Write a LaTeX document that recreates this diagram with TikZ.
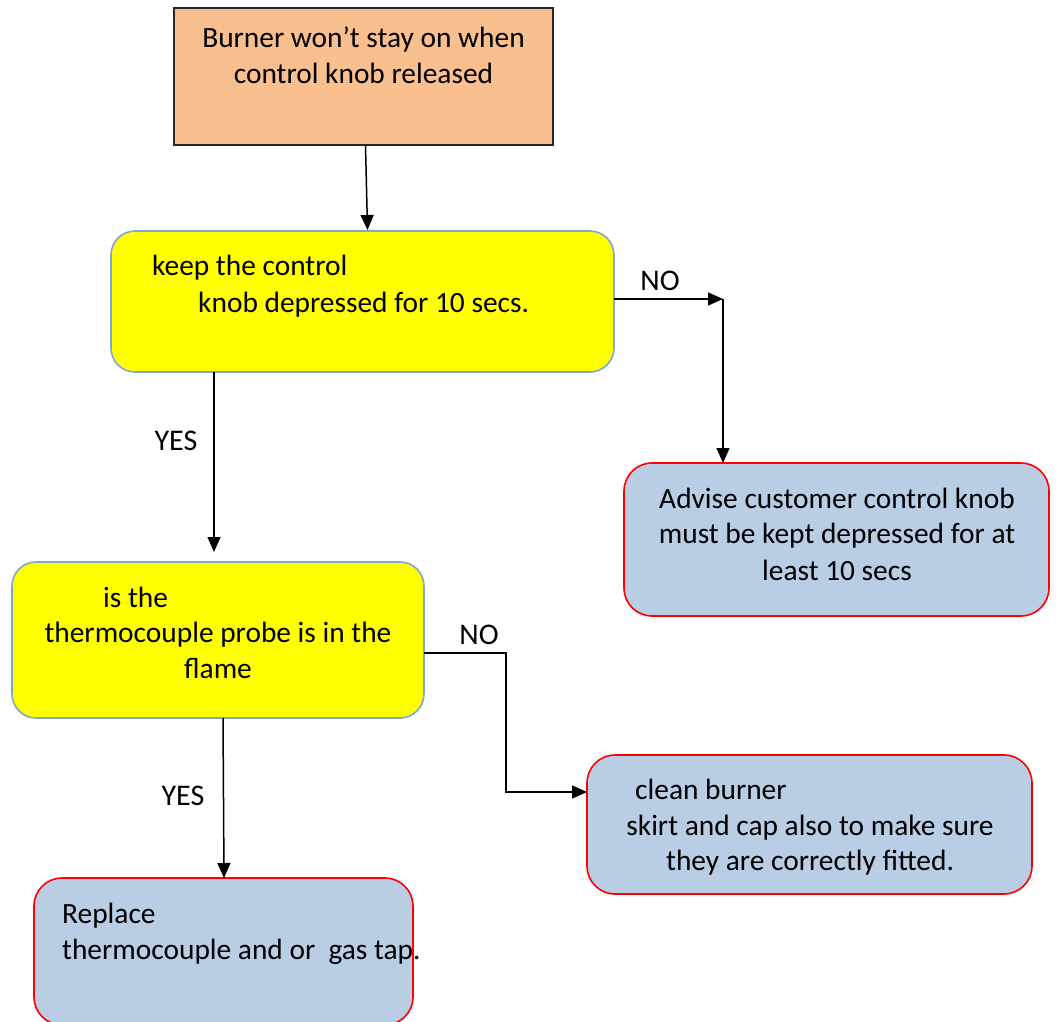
\documentclass[tikz,border=0pt]{standalone}
\usepackage{fontspec}
\setmainfont{Carlito}
\usetikzlibrary{arrows.meta,calc}
\definecolor{peach}{HTML}{F9BF8F}
\definecolor{ylw}{HTML}{FFFF00}
\definecolor{lblue}{HTML}{B9CDE4}
\definecolor{bblue}{HTML}{7EA6D8}
\definecolor{rred}{HTML}{FF0000}
\begin{document}
\begin{tikzpicture}[x=1pt,y=-1pt,
  boxbase/.style={inner sep=0pt, outer sep=0pt, line width=1.6pt},
  startbox/.style={boxbase, rectangle, draw=black!85, fill=peach},
  decbox/.style={boxbase, rectangle, rounded corners=24pt, draw=bblue, fill=ylw},
  actbox/.style={boxbase, rectangle, rounded corners=28pt, draw=rred, fill=lblue},
  txt/.style={inner sep=0pt, font=\fontsize{29.4}{35}\selectfont},
  lbl/.style={inner sep=0pt, font=\fontsize{30}{35}\selectfont},
  conn/.style={line width=1.5pt, -{Triangle[length=15pt,width=13pt]}}
]
\useasboundingbox (0,0) rectangle (1058,1021);

% boxes
\node[startbox, minimum width=379pt, minimum height=137pt] (start) at (363.5,76.5) {};
\node[decbox, minimum width=503pt, minimum height=141pt] (dec1) at (362.5,301.5) {};
\node[decbox, minimum width=412pt, minimum height=156pt] (dec2) at (218,640) {};
\node[actbox, minimum width=425pt, minimum height=153pt] (act1) at (836.5,539.5) {};
\node[actbox, minimum width=445pt, minimum height=139pt] (act2) at (809.5,824.5) {};
\node[actbox, minimum width=379pt, minimum height=147pt] (act3) at (223.5,951.5) {};

% texts
\node[txt, anchor=base] (t1a) at (363.5,47) {Burner won’t stay on when};
\node[txt, anchor=base] (t1b) at (363.5,83) {control knob released};
\node[txt, anchor=base west] (t2a) at (152,275) {keep the control};
\node[txt, anchor=base west] (t2b) at (198,312) {knob depressed for 10 secs.};
\node[txt, anchor=base west] (t3a) at (103,607) {is the};
\node[txt, anchor=base] (t3b) at (218,642) {thermocouple probe is in the};
\node[txt, anchor=base] (t3c) at (218,678) {flame};
\node[txt, anchor=base] (t4a) at (837,508) {Advise customer control knob};
\node[txt, anchor=base] (t4b) at (837,543) {must be kept depressed for at};
\node[txt, anchor=base] (t4c) at (837,580) {least 10 secs};
\node[txt, anchor=base west] (t5a) at (635,799) {clean burner};
\node[txt, anchor=base] (t5b) at (810,835) {skirt and cap also to make sure};
\node[txt, anchor=base] (t5c) at (810,870) {they are correctly fitted.};
\node[txt, anchor=base west] (t6a) at (62,923) {Replace};
\node[txt, anchor=base west] (t6b) at (62,959) {thermocouple and or~~gas tap.};

% labels
\node[lbl, anchor=base] (no1) at (660,290) {NO};
\node[lbl, anchor=base] (yes1) at (176,450) {YES};
\node[lbl, anchor=base] (no2) at (479,644) {NO};
\node[lbl, anchor=base] (yes2) at (183,805) {YES};

% connector helper points
\coordinate (c1) at (723,299);
\coordinate (c2) at (214,552);
\coordinate (c3) at (506,792);

% connectors
\draw[conn] ($(start.south)+(2,0)$) -- ($(dec1.north)+(5,-1)$);
\draw[conn] ($(dec1.east)+(0,-2.5)$) -- (c1);
\draw[conn] (c1) -- (act1.north -| c1);
\draw[conn] (dec1.south -| c2) -- (c2);
\draw[conn] ($(dec2.east)+(0,13)$) -| (c3) -- (act2.west |- c3);
\draw[conn] ($(dec2.south)+(5,0)$) -- ($(act3.north)+(0.5,0)$);
\end{tikzpicture}
\end{document}
